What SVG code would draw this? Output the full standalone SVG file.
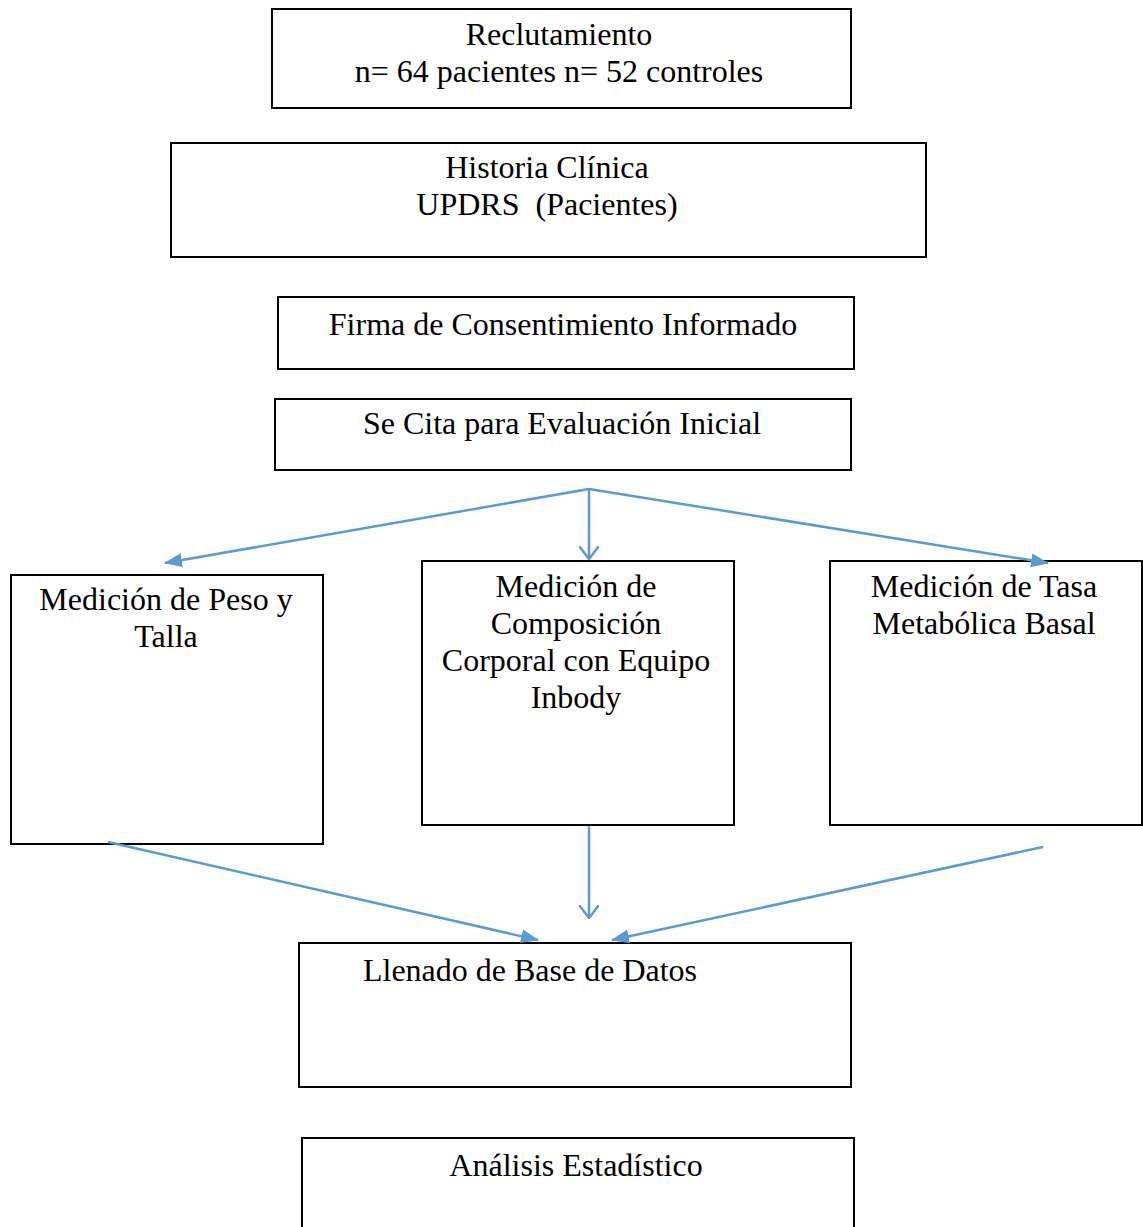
<svg xmlns="http://www.w3.org/2000/svg" width="1143" height="1227" viewBox="0 0 1143 1227">
<style>
.box{fill:#fff;stroke:#000;stroke-width:2}
.t{font-family:"Liberation Serif","Times New Roman",serif;font-size:32px;fill:#000;text-anchor:middle}
.c{fill:none;stroke:#5B9BD5;stroke-width:2.5}
</style>
<defs>
<marker id="fill" viewBox="0 0 18 14" refX="17" refY="7" markerWidth="18" markerHeight="14" markerUnits="userSpaceOnUse" orient="auto">
<path d="M0,0 L18,7 L0,14 Z" fill="#5B9BD5"/>
</marker>
<marker id="open" viewBox="0 0 14 20" refX="13" refY="10" markerWidth="14" markerHeight="20" markerUnits="userSpaceOnUse" orient="auto">
<path d="M0,0 L13,10 L0,20" fill="none" stroke="#5B9BD5" stroke-width="2.5"/>
</marker>
</defs>
<rect width="1143" height="1227" fill="#fff"/>
<g id="n1"><rect class="box" x="272" y="9" width="579" height="99"/><text class="t" x="559" y="45">Reclutamiento</text><text class="t" x="559" y="82">n= 64 pacientes n= 52 controles</text></g>
<g id="n2"><rect class="box" x="171" y="143" width="755" height="114"/><text class="t" x="547" y="178">Historia Clínica</text><text class="t" x="547" y="215" xml:space="preserve">UPDRS  (Pacientes)</text></g>
<g id="n3"><rect class="box" x="278" y="297" width="576" height="72"/><text class="t" x="563" y="335">Firma de Consentimiento Informado</text></g>
<g id="n4"><rect class="box" x="275" y="399" width="576" height="71"/><text class="t" x="562" y="434">Se Cita para Evaluación Inicial</text></g>
<g id="n5"><rect class="box" x="11" y="575" width="312" height="269"/><text class="t" x="166" y="610">Medición de Peso y</text><text class="t" x="166" y="647">Talla</text></g>
<g id="n6"><rect class="box" x="422" y="561" width="312" height="264"/><text class="t" x="576" y="597">Medición de</text><text class="t" x="576" y="634">Composición</text><text class="t" x="576" y="671">Corporal con Equipo</text><text class="t" x="576" y="708">Inbody</text></g>
<g id="n7"><rect class="box" x="830" y="561" width="312" height="264"/><text class="t" x="984" y="597">Medición de Tasa</text><text class="t" x="984" y="634">Metabólica Basal</text></g>
<g id="n8"><rect class="box" x="299" y="943" width="552" height="144"/><text class="t" x="530" y="981">Llenado de Base de Datos</text></g>
<g id="n9"><rect class="box" x="302" y="1138" width="552" height="110"/><text class="t" x="576" y="1176">Análisis Estadístico</text></g>
<g id="connectors">
<path class="c" d="M589,489 L165,563" marker-end="url(#fill)"/>
<path class="c" d="M589,489 L589,559" marker-end="url(#open)"/>
<path class="c" d="M589,489 L1048,563" marker-end="url(#fill)"/>
<path class="c" d="M108,842 L538,940" marker-end="url(#fill)"/>
<path class="c" d="M589,826 L589,918" marker-end="url(#open)"/>
<path class="c" d="M1043,847 L612,940" marker-end="url(#fill)"/>
</g>
</svg>
